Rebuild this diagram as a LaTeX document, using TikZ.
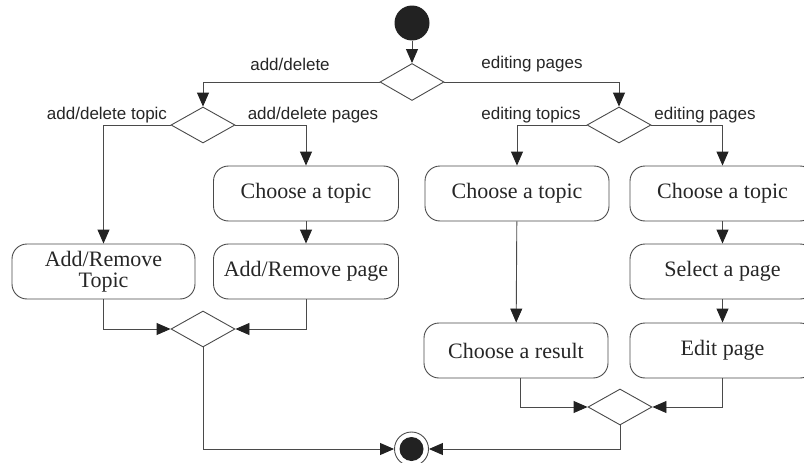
\documentclass[tikz,border=0pt]{standalone}
\usepackage{fontspec}
\setmainfont{Liberation Serif}
\setsansfont{Liberation Sans}
\usetikzlibrary{shapes.geometric,arrows.meta}
\definecolor{ln}{HTML}{4A4A4A}
\definecolor{txt}{HTML}{262626}
\definecolor{tip}{HTML}{222222}
\tikzset{
  act/.style={draw=ln, line width=0.9pt, rounded corners=15pt, minimum width=185pt, minimum height=55pt,
    inner sep=2pt, align=center, text=txt, font=\fontsize{22}{21}\selectfont},
  dec/.style={draw=ln, line width=0.9pt, diamond, minimum width=64pt, minimum height=37pt, inner sep=0pt},
  flow/.style={draw=ln, line width=0.9pt, -{Triangle[length=14pt,width=12pt,color=tip,fill=tip]}},
  lbl/.style={font=\sffamily\fontsize{17}{18}\selectfont, text=txt, inner sep=0pt},
}
\begin{document}
\begin{tikzpicture}[x=1pt,y=-1pt]
\useasboundingbox (0,0) rectangle (804,463);
\clip (0,0) rectangle (804,463);
% initial and final
\node[circle, fill=tip, minimum size=35pt, inner sep=0pt] (start) at (412,23) {};
\node[circle, draw=ln, line width=0.9pt, fill=white, minimum size=34pt, inner sep=0pt] (final) at (411.5,449) {};
\node[circle, fill=tip, minimum size=24pt, inner sep=0pt] (finalin) at (411.5,449) {};
% decisions
\node[dec] (d1) at (412,82) {};
\node[dec, minimum height=36pt] (d2) at (203,125) {};
\node[dec, minimum height=36pt] (d3) at (619,125) {};
\node[dec, minimum height=36pt] (m1) at (203,329) {};
\node[dec, minimum height=36pt] (m2) at (620,407) {};
% actions
\node[act] (b1) at (306,193.5) {Choose a topic};
\node[act] (b2) at (306,271.5) {Add/Remove page};
\node[act, minimum width=183pt] (b3) at (103.5,271.5) {Add/Remove\\Topic};
\node[act, minimum width=184pt] (b4) at (517,193.5) {Choose a topic};
\node[act] (b5) at (722.5,193.5) {Choose a topic};
\node[act] (b6) at (722.5,271.5) {Select a page};
\node[act] (b7) at (722.5,350.5) {Edit page};
\node[act, minimum width=184pt] (b8) at (516,350.5) {Choose a result};
% labels
\node[lbl] (l1) at (290,64) {add/delete};
\node[lbl] (l2) at (532,64) {editing pages};
\node[lbl] (l3) at (107,115) {add/delete topic};
\node[lbl] (l4) at (313,115) {add/delete pages};
\node[lbl] (l5) at (531,115) {editing topics};
\node[lbl] (l6) at (705,115) {editing pages};
% connectors
\draw[flow] (start) -- (d1.north);
\draw[flow] (d1.west) -| (d2.north);
\draw[flow] (d1.east) -| (d3.north);
\draw[flow] (d2.west) -| (b3.north);
\draw[flow] (d2.east) -| (b1.north);
\draw[flow] (d3.west) -| (b4.north);
\draw[flow] (d3.east) -| (b5.north);
\draw[flow] (b1) -- (b2);
\draw[flow] (b4) -- (b8);
\draw[flow] (b5) -- (b6);
\draw[flow] (b6) -- (b7);
\draw[flow] (b3.south) |- (m1.west);
\draw[flow] (b2.south) |- (m1.east);
\draw[flow] ([xshift=4pt]b8.south) |- (m2.west);
\draw[flow] (b7.south) |- (m2.east);
\draw[flow] (m1.south) |- (final.west);
\draw[flow] (m2.south) |- (final.east);
\end{tikzpicture}
\end{document}
